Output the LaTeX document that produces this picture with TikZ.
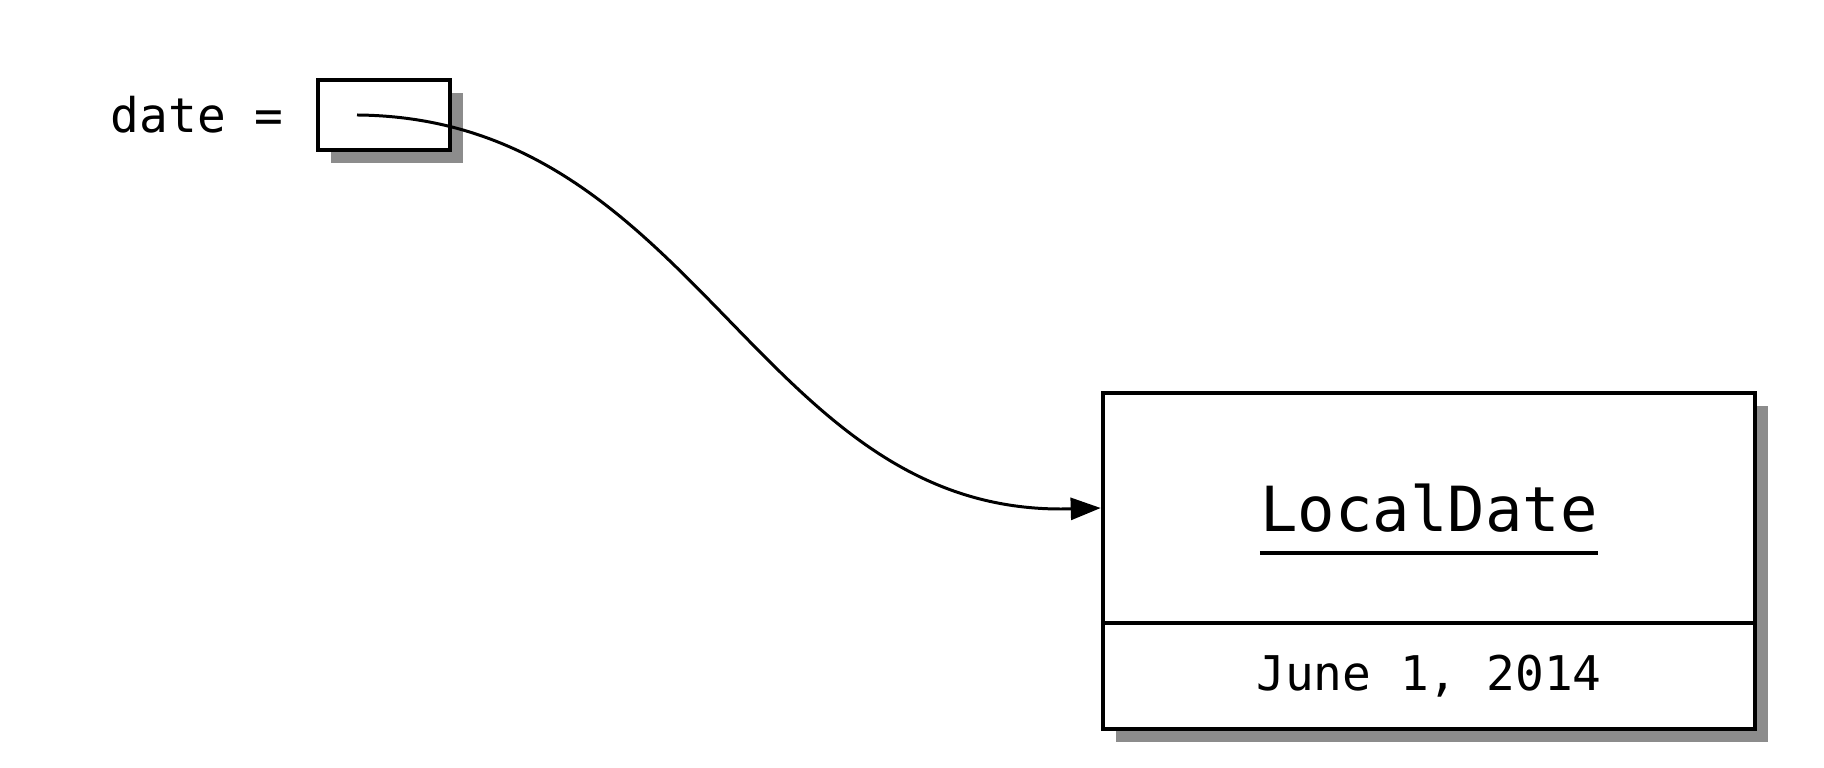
\documentclass[tikz,border=0pt]{standalone}
\usepackage{fontspec}
\setmonofont{DejaVu Sans Mono}
\usetikzlibrary{arrows.meta,shadows}
\begin{document}
\begin{tikzpicture}
	\useasboundingbox (0,0) rectangle (18.24,7.68);
	\begin{scope}[every node/.style={rectangle,draw,line width=1.3pt,fill=white,inner sep=0pt,
		drop shadow={shadow xshift=0.13cm,shadow yshift=-0.13cm,fill=black!45,opacity=1}}]
	\node[minimum width=1.32cm,minimum height=0.70cm] (ref) at (3.84,6.53) {};
	\node[minimum width=6.52cm,minimum height=2.30cm] (cls) at (14.29,2.60) {};
	\node[minimum width=6.52cm,minimum height=1.06cm,font=\ttfamily\fontsize{13.6}{16}\selectfont] (val) at (14.29,0.92) {June 1, 2014};
	\end{scope}
	\begin{scope}[every node/.style={inner sep=0pt,font=\ttfamily\fontsize{13.6}{16}\selectfont}]
	\node[anchor=base west] (lbl) at (1.10,6.35) {date =};
	\node[anchor=base,font=\ttfamily\fontsize{17.7}{21}\selectfont] (name) at (14.29,2.36) {LocalDate};
	\end{scope}
	\draw[line width=0.9pt] ([yshift=-0.21cm]name.base west) -- ([yshift=-0.21cm]name.base east);
	\coordinate (ptr) at (3.57,6.53);
	\draw[line width=0.85pt,-{Triangle[length=3mm,width=2.2mm]}] (ptr) .. controls +(3.43,-0.03) and +(-3.43,-0.1) .. (cls.west);
\end{tikzpicture}
\end{document}
